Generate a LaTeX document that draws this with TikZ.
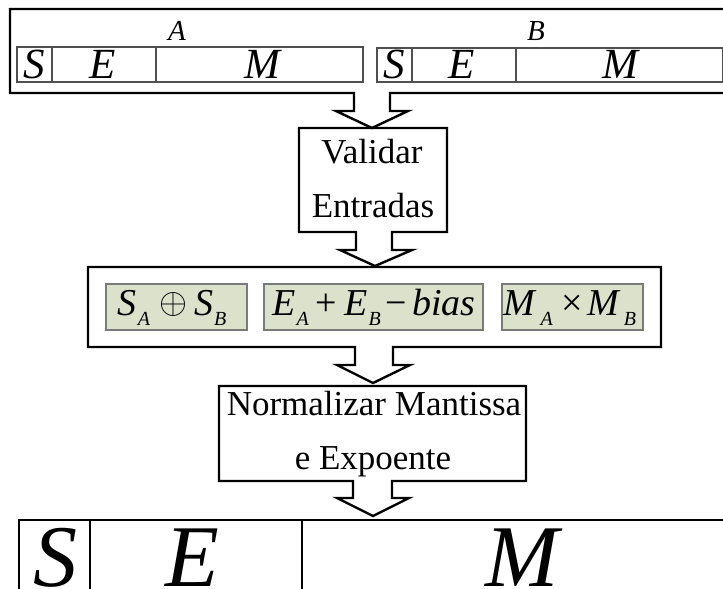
\documentclass[tikz,border=0pt]{standalone}
\usepackage{fontspec}
\setmainfont{Liberation Serif}
\definecolor{boxfill}{HTML}{DCE1CC}
\definecolor{boxline}{HTML}{7A7A7A}
\definecolor{tblline}{HTML}{505050}
\newcommand\sbsA[1]{\raisebox{-10pt}{\fontsize{20}{20}\selectfont\itshape #1}}
\newcommand\myoplus{\raisebox{2pt}{\scalebox{3.6}{\fontsize{10}{10}\selectfont$\oplus$}}}
\begin{document}
\begin{tikzpicture}[x=1pt,y=-1pt,
  outer/.style={line width=2.4pt, line join=miter, draw=black},
  tbl/.style={line width=1.3pt, draw=tblline},
  gbox/.style={line width=1.4pt, draw=boxline, fill=boxfill},
  bigtbl/.style={line width=2pt, draw=black},
  txt/.style={inner sep=0pt, anchor=base, font=\fontsize{35}{35}\selectfont},
  fld/.style={inner sep=0pt, anchor=base, font=\fontsize{43}{43}\selectfont\itshape},
  lbl/.style={inner sep=0pt, anchor=base, font=\fontsize{29}{29}\selectfont\itshape},
  mth/.style={inner sep=0pt, anchor=base, font=\fontsize{38}{38}\selectfont\itshape},
  huge/.style={inner sep=0pt, anchor=base, font=\fontsize{88}{88}\selectfont\itshape}]
\useasboundingbox (0,0) rectangle (723,589);
\clip (0,0) rectangle (723,589);
\fill[white] (0,0) rectangle (723,589);

% top container with arrow
\draw[outer] (10,9) -- (740,9) -- (740,93) -- (390,93) -- (390,111) -- (408,111)
  -- (372,128) -- (336,111) -- (354,111) -- (354,93) -- (10,93) -- cycle;

% A fields
\draw[tbl] (17,47) rectangle (363,82);
\draw[tbl] (52,47) -- (52,82);
\draw[tbl] (156,47) -- (156,82);
\node[lbl] (la) at (177,40.5) {A};
\node[fld] (sa) at (34.5,78) {S};
\node[fld] (ea) at (103,78) {E};
\node[fld] (ma) at (262,78) {M};

% B fields
\draw[tbl] (377,48) rectangle (722.3,82);
\draw[tbl] (412,48) -- (412,82);
\draw[tbl] (516,48) -- (516,82);
\node[lbl] (lb) at (536,40.5) {B};
\node[fld] (sb) at (394.5,78) {S};
\node[fld] (eb) at (462,78) {E};
\node[fld] (mb) at (620,78) {M};

% Validar Entradas
\draw[outer] (299,128) -- (447,128) -- (447,232) -- (392,232) -- (392,250) -- (412,250)
  -- (375,266) -- (340,250) -- (356,250) -- (356,232) -- (299,232) -- cycle;
\node[txt] (v1) at (372,163) {Validar};
\node[txt] (v2) at (373,217) {Entradas};

% operations box
\draw[outer] (88,267) -- (661,267) -- (661,347) -- (393,347) -- (393,365) -- (410,365)
  -- (373,383) -- (337,365) -- (355,365) -- (355,347) -- (88,347) -- cycle;
\draw[gbox] (106,284) rectangle (247,330);
\draw[gbox] (264,284) rectangle (483,330);
\draw[gbox] (502,284) rectangle (643,330);
\node[mth] (os) at (172,315) {S\kern1pt\sbsA{A}\kern9pt\myoplus\kern7pt S\kern1pt\sbsA{B}};
\node[mth] (oe) at (374,315) {E\kern1pt\sbsA{A}\kern7pt{\upshape +}\kern7pt E\kern1pt\sbsA{B}\kern5pt{\upshape −}\kern5pt bias};
\node[mth] (om) at (570,315) {M\kern5pt\sbsA{A}\kern9pt{\upshape ×}\kern4pt M\kern5pt\sbsA{B}};

% Normalizar
\draw[outer] (219,386) -- (526,386) -- (526,481) -- (392,481) -- (392,498) -- (409,498)
  -- (373,516) -- (337,498) -- (353,498) -- (353,481) -- (219,481) -- cycle;
\node[txt] (n1) at (374,415) {Normalizar Mantissa};
\node[txt] (n2) at (373,469) {e Expoente};

% result fields
\draw[bigtbl] (19,520) rectangle (740,620);
\draw[bigtbl] (89.5,520) -- (89.5,620);
\draw[bigtbl] (302,520) -- (302,620);
\node[huge] (rs) at (55,586) {S};
\node[huge] (re) at (192,586) {E};
\node[huge] (rm) at (522,586) {M};
\end{tikzpicture}
\end{document}
